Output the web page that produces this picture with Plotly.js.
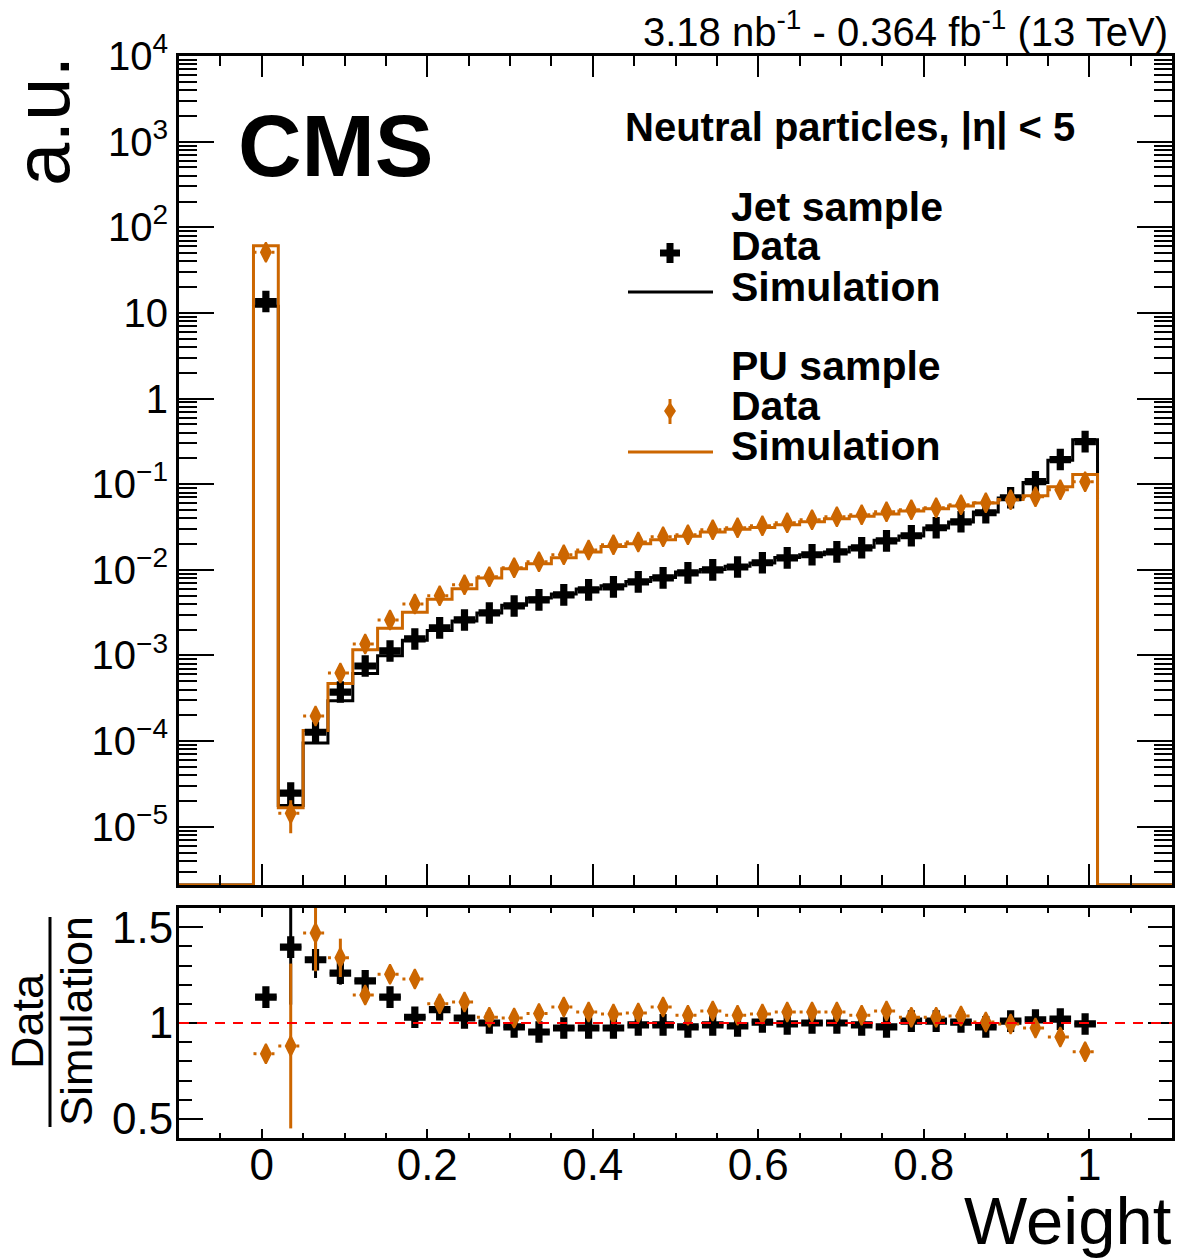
<!DOCTYPE html>
<html><head><meta charset="utf-8">
<script src="https://cdn.plot.ly/plotly-3.0.1.min.js"></script>
<style>body{margin:0;padding:0;background:#fff}#chart{width:1181px;height:1258px}</style>
</head><body><div id="chart"></div>
<script>
// ---- data ----
const binCenters = [0.005,0.035,0.065,0.095,0.125,0.155,0.185,0.215,0.245,0.275,0.305,0.335,0.365,0.395,0.425,0.455,0.485,0.515,0.545,0.575,0.605,0.635,0.665,0.695,0.725,0.755,0.785,0.815,0.845,0.875,0.905,0.935,0.965,0.995];
const binHalfWidth = 0.015;

const jetData = [13.6,2.47e-5,1.27e-4,3.74e-4,7.54e-4,1.13e-3,1.56e-3,2.10e-3,2.60e-3,3.14e-3,3.79e-3,4.46e-3,5.10e-3,5.83e-3,6.33e-3,7.24e-3,8.06e-3,9.22e-3,0.0100,0.0108,0.0121,0.0138,0.0150,0.0162,0.0181,0.0218,0.0250,0.0310,0.0364,0.0464,0.0695,0.107,0.194,0.314];
const jetDataErr = [0.3,5e-6,8e-6,1.5e-5,2e-5,2e-5,2e-5,2e-5,2e-5,2e-5,2e-5,2e-5,2e-5,2e-5,2e-5,2e-5,2e-5,2e-5,2e-5,2e-5,2e-5,2e-5,2e-5,2e-5,2e-5,2e-5,2e-5,2e-5,2e-5,2e-5,3e-5,4e-5,6e-5,8e-5];
const jetSim = [12.0,1.77e-5,9.5e-5,2.97e-4,6.18e-4,9.96e-4,1.51e-3,1.96e-3,2.53e-3,3.14e-3,3.87e-3,4.68e-3,5.24e-3,5.99e-3,6.50e-3,7.31e-3,8.14e-3,9.41e-3,0.0101,0.0110,0.0120,0.0139,0.0150,0.0162,0.0183,0.0222,0.0248,0.0307,0.0362,0.0473,0.0688,0.105,0.190,0.33];

const puData = [51,1.44e-5,1.96e-4,6.24e-4,1.36e-3,2.60e-3,4.0e-3,4.97e-3,6.68e-3,8.28e-3,0.01055,0.0124,0.0150,0.0171,0.0196,0.0212,0.0243,0.0257,0.0294,0.0310,0.0327,0.0355,0.0385,0.0417,0.0440,0.0477,0.0503,0.0531,0.0576,0.0608,0.0659,0.0714,0.0863,0.107];
const puDataErr = [0.5,6e-6,2e-5,2e-5,2e-5,2e-5,2e-5,2e-5,2e-5,2e-5,2e-5,2e-5,2e-5,2e-5,2e-5,2e-5,2e-5,2e-5,2e-5,2e-5,2e-5,2e-5,2e-5,2e-5,2e-5,2e-5,2e-5,2e-5,2e-5,2e-5,3e-5,4e-5,5e-5,6e-5];
const puSim = [61,1.67e-5,1.33e-4,4.7e-4,1.17e-3,2.08e-3,3.2e-3,4.55e-3,6.0e-3,8.04e-3,0.01028,0.0118,0.01385,0.0162,0.0187,0.0202,0.0224,0.0247,0.0277,0.0298,0.0312,0.0336,0.0364,0.0395,0.0423,0.0449,0.0488,0.0516,0.0556,0.0605,0.0662,0.0733,0.0931,0.13];

const jetRatio = [1.135,1.396,1.33,1.26,1.22,1.135,1.03,1.07,1.026,1.0,0.98,0.953,0.974,0.974,0.974,0.99,0.99,0.98,0.99,0.985,1.005,0.995,1.0,1.0,0.99,0.98,1.01,1.01,1.005,0.98,1.01,1.016,1.02,0.995];
const jetRatioErr = [0.02,0.3,0.095,0.06,0.035,0.02,0.015,0.012,0.01,0.01,0.01,0.01,0.01,0.01,0.01,0.01,0.01,0.01,0.01,0.01,0.01,0.01,0.01,0.01,0.01,0.01,0.01,0.01,0.01,0.01,0.01,0.01,0.01,0.01];
const puRatio = [0.84,0.88,1.47,1.34,1.146,1.255,1.23,1.10,1.11,1.03,1.026,1.05,1.083,1.057,1.047,1.052,1.083,1.04,1.063,1.04,1.047,1.057,1.057,1.057,1.04,1.063,1.03,1.03,1.036,1.005,0.995,0.974,0.927,0.85];
const puRatioErr = [0.02,0.43,0.2,0.1,0.04,0.025,0.015,0.012,0.01,0.01,0.01,0.01,0.01,0.01,0.01,0.01,0.01,0.01,0.01,0.01,0.01,0.01,0.01,0.01,0.01,0.01,0.01,0.01,0.01,0.01,0.01,0.01,0.01,0.01];

const logTickVals = [1e-5,1e-4,1e-3,1e-2,1e-1,1,10,100,1000,10000];
const logTickText = ['10<sup>\u22125</sup>','10<sup>\u22124</sup>','10<sup>\u22123</sup>','10<sup>\u22122</sup>','10<sup>\u22121</sup>','1','10','10<sup>2</sup>','10<sup>3</sup>','10<sup>4</sup>'];
const xTickVals = [0,0.2,0.4,0.6,0.8,1];
const xTickText = ['0','0.2','0.4','0.6','0.8','1'];
const ratioTickVals = [0.5,1,1.5];
const ratioTickText = ['0.5','1','1.5'];

// ---- styling / geometry ----
const ORANGE = '#cc6600';
const FONT = 'Liberation Sans, Arial, Helvetica, sans-serif';
const W = 1181, H = 1258;
const M = {l:179, r:9, t:56, b:120};
const XR = [-0.1, 1.1];
const YLOG = [-5.68, 4];
const YFLOOR = Math.pow(10, YLOG[0]);
const px2x = p => (p - M.l) / (W - M.l - M.r);
const px2y = p => (H - M.b - p) / (H - M.t - M.b);

function stepXY(vals) {
  const xs = [XR[0]], ys = [YFLOOR];
  for (let i = 0; i < binCenters.length; i++) { xs.push(binCenters[i] - binHalfWidth); ys.push(vals[i]); }
  const last = binCenters.length - 1;
  xs.push(binCenters[last] + binHalfWidth); ys.push(YFLOOR);
  xs.push(XR[1]); ys.push(YFLOOR);
  return {x: xs, y: ys};
}
function dottedXErr(yvals) {
  const xs = [], ys = [];
  for (let i = 0; i < binCenters.length; i++) {
    xs.push(binCenters[i] - binHalfWidth, binCenters[i] + binHalfWidth, null);
    ys.push(yvals[i], yvals[i], null);
  }
  return {x: xs, y: ys};
}

const jetStep = stepXY(jetSim), puStep = stepXY(puSim);
const puDots = dottedXErr(puData), puRDots = dottedXErr(puRatio);

const traces = [
  {x: jetStep.x, y: jetStep.y, xaxis:'x', yaxis:'y', mode:'lines', line:{shape:'hv', color:'black', width:3}, hoverinfo:'skip'},
  {x: puStep.x, y: puStep.y, xaxis:'x', yaxis:'y', mode:'lines', line:{shape:'hv', color:ORANGE, width:3}, hoverinfo:'skip'},
  {x: binCenters, y: jetData, xaxis:'x', yaxis:'y', mode:'markers', type:'scatter',
   marker:{symbol:'cross', size:18, color:'black'},
   error_y:{type:'data', array: jetDataErr, color:'black', thickness:3, width:0},
   error_x:{type:'constant', value: binHalfWidth*0.8, color:'black', thickness:3, width:0}},
  {x: puDots.x, y: puDots.y, xaxis:'x', yaxis:'y', mode:'lines', line:{color:ORANGE, width:3, dash:'3px,6px'}, hoverinfo:'skip'},
  {x: binCenters, y: puData, xaxis:'x', yaxis:'y', mode:'markers', type:'scatter',
   marker:{symbol:'diamond-tall', size:14, color:ORANGE, line:{color:ORANGE, width:2}},
   error_y:{type:'data', array: puDataErr, color:ORANGE, thickness:3, width:0}},
  // ratio panel
  {x: binCenters, y: jetRatio, xaxis:'x2', yaxis:'y2', mode:'markers', type:'scatter',
   marker:{symbol:'cross', size:18, color:'black'},
   error_y:{type:'data', array: jetRatioErr, color:'black', thickness:3, width:0},
   error_x:{type:'constant', value: binHalfWidth*0.85, color:'black', thickness:3, width:0}},
  {x: puRDots.x, y: puRDots.y, xaxis:'x2', yaxis:'y2', mode:'lines', line:{color:ORANGE, width:3, dash:'3px,6px'}, hoverinfo:'skip'},
  {x: binCenters, y: puRatio, xaxis:'x2', yaxis:'y2', mode:'markers', type:'scatter',
   marker:{symbol:'diamond-tall', size:14, color:ORANGE, line:{color:ORANGE, width:2}},
   error_y:{type:'data', array: puRatioErr, color:ORANGE, thickness:3, width:0}}
];

const topDomain = [(H - M.b - 885) / (H - M.t - M.b), 1];
const botDomain = [0, (H - M.b - 908) / (H - M.t - M.b)];

const axisCommon = {showline:true, linecolor:'black', linewidth:3, mirror:'ticks', ticks:'inside',
  tickcolor:'black', tickwidth:2, showgrid:false, zeroline:false};

const layout = {
  width: W, height: H, margin: M, showlegend:false,
  paper_bgcolor:'white', plot_bgcolor:'white',
  font:{family: FONT, color:'black'},
  xaxis: Object.assign({}, axisCommon, {anchor:'y', domain:[0,1], range:XR, showticklabels:false,
    tickmode:'array', tickvals:xTickVals, ticklen:21,
    minor:{ticks:'inside', ticklen:10, dtick:0.05, tick0:0, tickcolor:'black', tickwidth:2}}),
  yaxis: Object.assign({}, axisCommon, {anchor:'x', domain:topDomain, type:'log', range:YLOG,
    tickmode:'array', tickvals:logTickVals, ticktext:logTickText, ticklen:35,
    tickfont:{size:40, family:FONT},
    minor:{ticks:'inside', ticklen:18, dtick:'D1', tickcolor:'black', tickwidth:2}}),
  xaxis2: Object.assign({}, axisCommon, {anchor:'y2', domain:[0,1], range:XR,
    tickmode:'array', tickvals:xTickVals, ticktext:xTickText, ticklen:9, ticklabelstandoff:-14,
    tickfont:{size:44, family:FONT},
    minor:{ticks:'inside', ticklen:5, dtick:0.05, tick0:0, tickcolor:'black', tickwidth:2}}),
  yaxis2: Object.assign({}, axisCommon, {anchor:'x2', domain:botDomain, range:[0.4,1.6],
    tickmode:'array', tickvals:ratioTickVals, ticktext:ratioTickText, ticklen:24, ticklabelstandoff:-6,
    tickfont:{size:44, family:FONT},
    minor:{ticks:'inside', ticklen:13, dtick:0.1, tick0:0, tickcolor:'black', tickwidth:2}}),
  shapes: [],
  annotations: []
};

// reference line at ratio = 1
layout.shapes.push({type:'line', xref:'x2 domain', yref:'y2', x0:0, x1:1, y0:1, y1:1,
  line:{color:'#ff0000', width:2, dash:'10px,8px'}});

// legend symbols (pixel-placed)
function pathPx(pts) {
  return 'M' + pts.map(p => px2x(p[0]).toFixed(5) + ',' + px2y(p[1]).toFixed(5)).join(' L') + ' Z';
}
const cx = 670, cy = 253, a = 10, t = 3.5;
layout.shapes.push({type:'path', xref:'paper', yref:'paper', fillcolor:'black', line:{width:0},
  path: pathPx([[cx-t,cy-a],[cx+t,cy-a],[cx+t,cy-t],[cx+a,cy-t],[cx+a,cy+t],[cx+t,cy+t],[cx+t,cy+a],[cx-t,cy+a],[cx-t,cy+t],[cx-a,cy+t],[cx-a,cy-t],[cx-t,cy-t]])});
layout.shapes.push({type:'line', xref:'paper', yref:'paper', x0:px2x(628), x1:px2x(713), y0:px2y(292), y1:px2y(292), line:{color:'black', width:3}});
const dx = 670, dy = 411;
layout.shapes.push({type:'line', xref:'paper', yref:'paper', x0:px2x(dx), x1:px2x(dx), y0:px2y(399), y1:px2y(424), line:{color:ORANGE, width:3}});
layout.shapes.push({type:'path', xref:'paper', yref:'paper', fillcolor:ORANGE, line:{width:0},
  path: pathPx([[dx,dy-9],[dx+6,dy],[dx,dy+9],[dx-6,dy]])});
layout.shapes.push({type:'line', xref:'paper', yref:'paper', x0:px2x(628), x1:px2x(713), y0:px2y(452), y1:px2y(452), line:{color:ORANGE, width:3}});
// fraction bar of the ratio title
layout.shapes.push({type:'line', xref:'paper', yref:'paper', x0:px2x(50), x1:px2x(50), y0:px2y(917), y1:px2y(1127), line:{color:'black', width:3}});

function ann(text, xp, yp, size, opts) {
  return Object.assign({text:text, xref:'paper', yref:'paper', x:px2x(xp), y:px2y(yp), showarrow:false,
    font:{family:FONT, size:size, color:'black'}, xanchor:'left', yanchor:'middle'}, opts || {});
}
layout.annotations.push(
  ann('3.18 nb<sup>-1</sup> - 0.364 fb<sup>-1</sup> (13 TeV)', 1170, 29, 40, {xanchor:'right'}),
  ann('<b>CMS</b>', 236, 145, 88),
  ann('<b>Neutral particles, |η| &lt; 5</b>', 1077, 128, 40, {xanchor:'right'}),
  ann('<b>Jet sample</b>', 729, 207, 41),
  ann('<b>Data</b>', 729, 246, 41),
  ann('<b>Simulation</b>', 729, 287, 41),
  ann('<b>PU sample</b>', 729, 366, 41),
  ann('<b>Data</b>', 729, 406, 41),
  ann('<b>Simulation</b>', 729, 446, 41),
  ann('a.u.', 42, 121, 78, {textangle:-90, xanchor:'center'}),
  ann('Weight', 1174, 1220, 67, {xanchor:'right'}),
  ann('Data', 27, 1021, 45, {textangle:-90, xanchor:'center'}),
  ann('Simulation', 76, 1021, 45, {textangle:-90, xanchor:'center'})
);

Plotly.newPlot('chart', traces, layout, {staticPlot:true, displayModeBar:false});
</script>
</body></html>
